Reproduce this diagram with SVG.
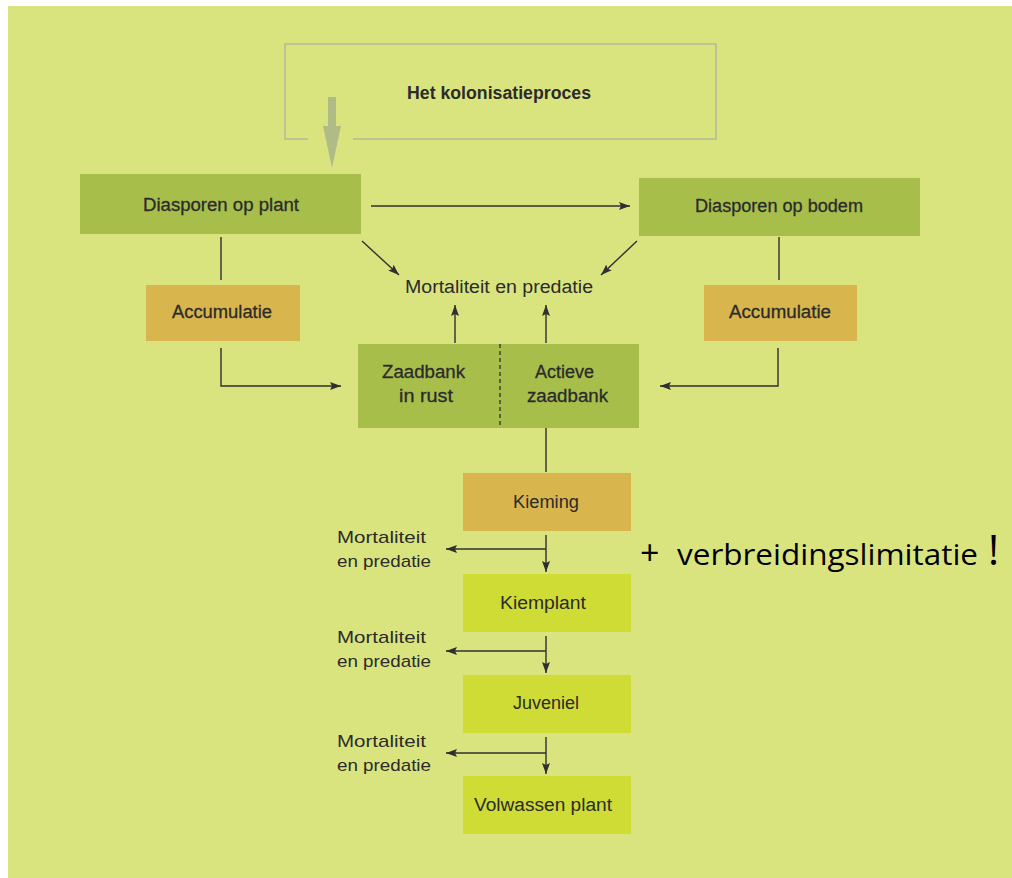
<svg xmlns="http://www.w3.org/2000/svg" width="1012" height="878" viewBox="0 0 1012 878">
<defs>
<marker id="ah" markerUnits="userSpaceOnUse" markerWidth="12" markerHeight="8" refX="11" refY="4" orient="auto">
<path d="M0,0 L11,4 L0,8 L2,4 z" fill="#2f2f2f"/>
</marker>
<style>
.lbl{font-family:"Liberation Sans",Arial,sans-serif;font-size:18px;fill:#2b2b2b}
.bx{stroke:#2b2b2b;stroke-width:0.3}
.sm{font-family:"Liberation Sans",Arial,sans-serif;font-size:17px;fill:#2b2b2b}
.dk{fill:#a7be4b}
.ac{fill:#d9b54d}
.lt{fill:#cfdc36}
.ln{stroke:#2f2f2f;stroke-width:1.4;fill:none}
.big{font-family:"Open Sans","Liberation Sans",sans-serif;fill:#000}
</style>
</defs>
<rect x="0" y="0" width="1012" height="878" fill="#ffffff"/>
<rect x="8" y="6" width="1004" height="872" fill="#dae47f"/>

<g id="kolonisatieproces">
<path d="M308,139 H285 V44 H716 V139 H353" fill="none" stroke="#b3bb95" stroke-width="1.5"/>
<text class="lbl" x="407" y="99" font-weight="bold" textLength="184" lengthAdjust="spacingAndGlyphs">Het kolonisatieproces</text>
<path d="M328,97 H336 V126 H341 L332,168 L323,126 H328 z" fill="#afbc86"/>
</g>

<g id="diasporen-plant">
<rect class="dk" x="80" y="174" width="281" height="60"/>
<text class="lbl bx" x="143" y="211" textLength="156" lengthAdjust="spacingAndGlyphs">Diasporen op plant</text>
</g>
<g id="diasporen-bodem">
<rect class="dk" x="639" y="178" width="281" height="58"/>
<text class="lbl bx" x="695" y="212" textLength="168" lengthAdjust="spacingAndGlyphs">Diasporen op bodem</text>
</g>
<g id="mortaliteit-top">
<text class="lbl" x="405" y="293" textLength="188" lengthAdjust="spacingAndGlyphs">Mortaliteit en predatie</text>
</g>
<g id="accumulatie-links">
<rect class="ac" x="146" y="285" width="154" height="56"/>
<text class="lbl bx" x="172" y="318" textLength="100" lengthAdjust="spacingAndGlyphs">Accumulatie</text>
</g>
<g id="accumulatie-rechts">
<rect class="ac" x="704" y="285" width="153" height="56"/>
<text class="lbl bx" x="729" y="318" textLength="102" lengthAdjust="spacingAndGlyphs">Accumulatie</text>
</g>
<g id="zaadbank">
<rect class="dk" x="358" y="344" width="281" height="84"/>
<line x1="500" y1="344" x2="500" y2="428" stroke="#2f2f2f" stroke-width="1.3" stroke-dasharray="4,3"/>
<text class="lbl bx" x="382" y="378" textLength="83" lengthAdjust="spacingAndGlyphs">Zaadbank</text>
<text class="lbl bx" x="399" y="402" textLength="54" lengthAdjust="spacingAndGlyphs">in rust</text>
<text class="lbl bx" x="535" y="378" textLength="59" lengthAdjust="spacingAndGlyphs">Actieve</text>
<text class="lbl bx" x="527" y="402" textLength="81" lengthAdjust="spacingAndGlyphs">zaadbank</text>
</g>
<g id="kieming">
<rect class="ac" x="463" y="473" width="168" height="58"/>
<text class="lbl" x="513" y="508" textLength="66" lengthAdjust="spacingAndGlyphs">Kieming</text>
</g>
<g id="kiemplant">
<rect class="lt" x="463" y="574" width="168" height="58"/>
<text class="lbl" x="500" y="609" textLength="86" lengthAdjust="spacingAndGlyphs">Kiemplant</text>
</g>
<g id="juveniel">
<rect class="lt" x="463" y="675" width="168" height="58"/>
<text class="lbl" x="513" y="709" textLength="66" lengthAdjust="spacingAndGlyphs">Juveniel</text>
</g>
<g id="volwassen">
<rect class="lt" x="463" y="776" width="168" height="58"/>
<text class="lbl" x="474" y="811" textLength="138" lengthAdjust="spacingAndGlyphs">Volwassen plant</text>
</g>
<g id="mortaliteit-1">
<text class="sm" x="337" y="543" textLength="89" lengthAdjust="spacingAndGlyphs">Mortaliteit</text>
<text class="sm" x="337" y="567" textLength="94" lengthAdjust="spacingAndGlyphs">en predatie</text>
</g>
<g id="mortaliteit-2">
<text class="sm" x="337" y="643" textLength="89" lengthAdjust="spacingAndGlyphs">Mortaliteit</text>
<text class="sm" x="337" y="667" textLength="94" lengthAdjust="spacingAndGlyphs">en predatie</text>
</g>
<g id="mortaliteit-3">
<text class="sm" x="337" y="747" textLength="89" lengthAdjust="spacingAndGlyphs">Mortaliteit</text>
<text class="sm" x="337" y="771" textLength="94" lengthAdjust="spacingAndGlyphs">en predatie</text>
</g>

<g id="connectors">
<line class="ln" x1="371" y1="206" x2="630" y2="206" marker-end="url(#ah)"/>
<line class="ln" x1="362" y1="241" x2="399" y2="275" marker-end="url(#ah)"/>
<line class="ln" x1="637" y1="241" x2="601" y2="275" marker-end="url(#ah)"/>
<line class="ln" x1="221" y1="237" x2="221" y2="280"/>
<line class="ln" x1="779" y1="237" x2="779" y2="280"/>
<line class="ln" x1="455" y1="343" x2="455" y2="305" marker-end="url(#ah)"/>
<line class="ln" x1="546" y1="343" x2="546" y2="305" marker-end="url(#ah)"/>
<path class="ln" d="M221,348 V386 H341" marker-end="url(#ah)"/>
<path class="ln" d="M778,348 V386 H660" marker-end="url(#ah)"/>
<line class="ln" x1="546" y1="428" x2="546" y2="472"/>
<line class="ln" x1="546" y1="535" x2="546" y2="572" marker-end="url(#ah)"/>
<line class="ln" x1="546" y1="549" x2="446" y2="549" marker-end="url(#ah)"/>
<line class="ln" x1="546" y1="636" x2="546" y2="673" marker-end="url(#ah)"/>
<line class="ln" x1="546" y1="651" x2="446" y2="651" marker-end="url(#ah)"/>
<line class="ln" x1="546" y1="737" x2="546" y2="774" marker-end="url(#ah)"/>
<line class="ln" x1="546" y1="753" x2="446" y2="753" marker-end="url(#ah)"/>
</g>

<g id="note">
<text class="big" x="640" y="565" font-size="34">+</text>
<text class="big" x="677" y="565" font-size="29" textLength="301" lengthAdjust="spacingAndGlyphs">verbreidingslimitatie</text>
<text class="big" x="988" y="565" font-size="42">!</text>
</g>
</svg>
